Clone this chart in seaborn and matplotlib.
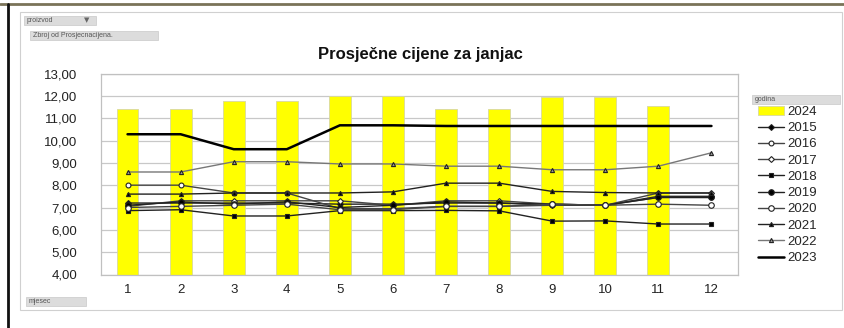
import matplotlib
matplotlib.use("Agg")
import matplotlib.pyplot as plt
from matplotlib.lines import Line2D
from matplotlib.patches import Patch, Rectangle
import numpy as np
import pandas as pd
import seaborn as sns

# data
months = list(range(1, 13))
y2024 = [11.42, 11.42, 11.78, 11.78, 12.00, 12.00, 11.42, 11.42, 11.95, 11.95, 11.55]
y2015 = [7.20, 7.20, 7.20, 7.20, 7.15, 7.15, 7.20, 7.20, 7.10, 7.10, 7.50, 7.50]
y2016 = [8.00, 8.00, 7.65, 7.65, 6.95, 6.95, 7.05, 7.05, 7.10, 7.10, 7.45, 7.45]
y2017 = [7.05, 7.30, 7.30, 7.30, 7.30, 7.10, 7.30, 7.30, 7.15, 7.10, 7.65, 7.65]
y2018 = [6.86, 6.90, 6.62, 6.62, 6.86, 6.86, 6.87, 6.85, 6.39, 6.40, 6.26, 6.26]
y2019 = [7.10, 7.25, 7.15, 7.25, 7.00, 7.10, 7.25, 7.20, 7.15, 7.10, 7.45, 7.45]
y2020 = [7.00, 7.05, 7.10, 7.15, 6.90, 6.90, 7.05, 7.05, 7.15, 7.10, 7.15, 7.10]
y2021 = [7.60, 7.60, 7.65, 7.65, 7.65, 7.70, 8.09, 8.09, 7.72, 7.67, 7.65, 7.65]
y2022 = [8.59, 8.59, 9.05, 9.05, 8.95, 8.95, 8.85, 8.85, 8.69, 8.69, 8.85, 9.45]
y2023 = [10.28, 10.28, 9.61, 9.61, 10.68, 10.68, 10.65, 10.65, 10.65, 10.65, 10.65, 10.65]

line_years = {
    "2015": y2015, "2016": y2016, "2017": y2017, "2018": y2018, "2019": y2019,
    "2020": y2020, "2021": y2021, "2022": y2022, "2023": y2023,
}
# marker, face colour, line colour, marker size, line width
styles = {
    "2015": ("D", "black", "#222222", 3, 1.0),
    "2016": ("o", "white", "#444444", 3.5, 1.0),
    "2017": ("D", "white", "#444444", 3, 1.0),
    "2018": ("s", "black", "#222222", 3, 1.0),
    "2019": ("o", "black", "#222222", 4, 1.0),
    "2020": ("o", "white", "#444444", 4, 1.0),
    "2021": ("^", "black", "#222222", 3, 1.0),
    "2022": ("^", "#999999", "#777777", 3, 1.0),
    "2023": (None, "black", "black", 0, 1.8),
}

sns.set_theme(style="white")
plt.rcParams["font.family"] = ["Liberation Sans", "DejaVu Sans"]

W, H = 844, 328
fig = plt.figure(figsize=(W / 100, H / 100), dpi=100)


def fx(px):
    return px / W


def fy(py):
    return 1 - py / H


ax = fig.add_axes([fx(101), fy(274.5), fx(637), 201 / H])

bars = pd.DataFrame({"mjesec": months[:len(y2024)], "cijena": y2024})
sns.barplot(data=bars, x="mjesec", y="cijena", native_scale=True, width=0.41,
            color="#FFFF00", saturation=1, edgecolor="#d8d8a0", linewidth=0.6,
            ax=ax, zorder=2)

for year, vals in line_years.items():
    m, fc, lc, ms, lw = styles[year]
    sns.lineplot(x=months, y=vals, ax=ax, color=lc, linewidth=lw, marker=m,
                 markersize=ms, markerfacecolor=fc, markeredgecolor="#222222",
                 markeredgewidth=0.8, zorder=3)

ax.set_xlim(0.5, 12.5)
ax.set_ylim(4, 13)
ax.set_yticks(np.arange(4, 14, 1))
ax.set_yticklabels([f"{v:.2f}".replace(".", ",") for v in np.arange(4, 14, 1)],
                   fontsize=9.5, color="#222222")
ax.set_xticks(months)
ax.set_xticklabels([str(m) for m in months], fontsize=9.5, color="#222222")
ax.set_xticks(np.arange(0.5, 13, 1), minor=True)
ax.tick_params(axis="x", which="major", length=0, pad=7)
ax.tick_params(axis="x", which="minor", length=3, color="#999999")
ax.tick_params(axis="y", which="major", length=3, color="#999999", pad=14)
ax.grid(axis="y", color="#c8c8c8", linewidth=0.9, zorder=0)
ax.set_axisbelow(True)
for side in ["top", "right", "bottom", "left"]:
    ax.spines[side].set_color("#c0c0c0")
    ax.spines[side].set_linewidth(0.9)
ax.set_xlabel("")
ax.set_ylabel("")

fig.text(fx(420), fy(55), "Prosječne cijene za janjac", ha="center", va="center",
         fontsize=12, fontweight="bold", color="#111111")

# legend
handles = [Patch(facecolor="#FFFF00", edgecolor="#d8d8a0", linewidth=0.6)]
labels = ["2024"]
for year in line_years:
    m, fc, lc, ms, lw = styles[year]
    handles.append(Line2D([], [], color=lc, linewidth=lw, marker=m, markersize=ms,
                          markerfacecolor=fc, markeredgecolor="#222222",
                          markeredgewidth=0.8))
    labels.append(year)
fig.legend(handles, labels, loc="upper left", bbox_to_anchor=(fx(758), fy(106)),
           frameon=False, fontsize=9.5, handlelength=2.0, handleheight=0.6,
           labelspacing=0.32, handletextpad=0.25, borderaxespad=0, borderpad=0)

# frame and pivot-field tabs
fig.add_artist(Rectangle((fx(20), fy(310)), fx(822), (310 - 12) / H,
                         transform=fig.transFigure, fill=False,
                         edgecolor="#d0d0d0", linewidth=0.8))
fig.add_artist(Line2D([fx(0), fx(844)], [fy(4), fy(4)], transform=fig.transFigure,
                      color="#7a7358", linewidth=2))
fig.add_artist(Line2D([fx(7.5), fx(7.5)], [fy(4), fy(328)], transform=fig.transFigure,
                      color="#111111", linewidth=2))


def tab(x0, y0, x1, y1, text, size=5):
    fig.add_artist(Rectangle((fx(x0), fy(y1)), fx(x1 - x0), (y1 - y0) / H,
                             transform=fig.transFigure, facecolor="#dcdcdc",
                             edgecolor="#c8c8c8", linewidth=0.5))
    fig.text(fx(x0 + 3), fy((y0 + y1) / 2), text, ha="left", va="center",
             fontsize=size, color="#555555")


tab(24, 16, 96, 25, "proizvod")
fig.text(fx(87), fy(20.5), "▼", ha="center", va="center", fontsize=5,
         color="#666666", family=["DejaVu Sans"])
tab(30, 31, 158, 40, "Zbroj od Prosjecnacijena.")
tab(26, 297, 86, 306, "mjesec")
tab(752, 95, 840, 104, "godina")

fig.savefig("out.png", dpi=100)
